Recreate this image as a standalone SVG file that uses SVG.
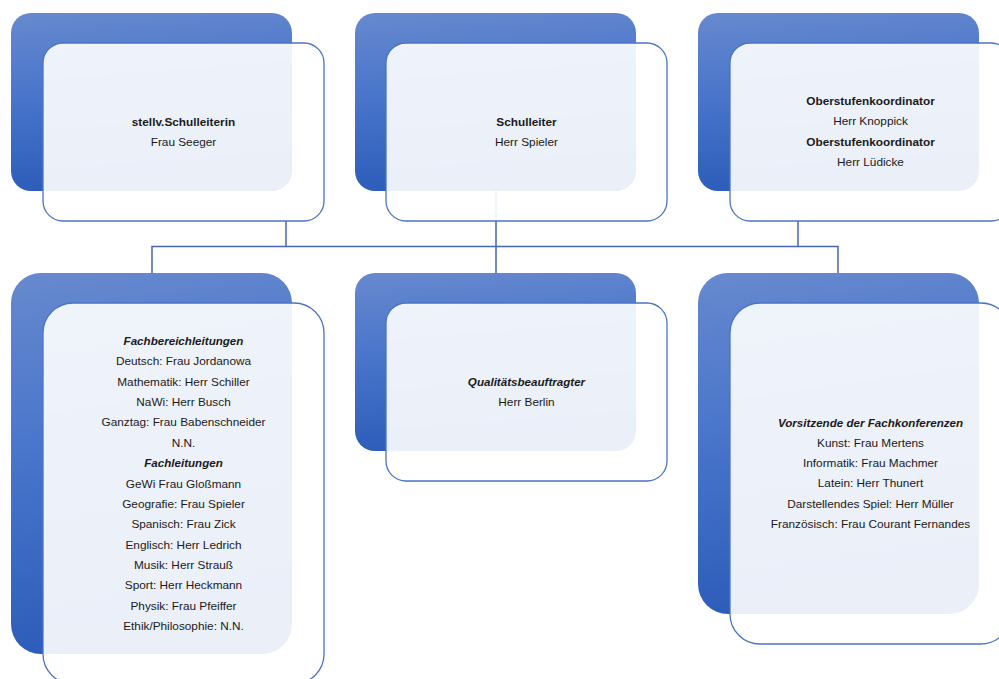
<svg xmlns="http://www.w3.org/2000/svg" width="999" height="679" viewBox="0 0 999 679">
<defs>
<linearGradient id="bg" x1="0" y1="0" x2="0.12" y2="1">
<stop offset="0" stop-color="#6789CE"/>
<stop offset="0.45" stop-color="#4A76CB"/>
<stop offset="1" stop-color="#2D5DBA"/>
</linearGradient>
<style>
.back{fill:url(#bg);}
.front{fill:#ffffff;fill-opacity:0.9;stroke:#4A74C4;stroke-width:1.3;}
.conn{fill:none;stroke:#4466AE;stroke-width:1.5;}
text{font-family:"Liberation Sans",Arial,sans-serif;font-size:11.8px;fill:#1a1a1a;text-anchor:middle;}
.b{font-weight:bold;}
.bi{font-weight:bold;font-style:italic;font-size:11.6px;}
</style>
</defs>
<rect width="999" height="679" fill="#ffffff"/>
<g id="connectors">
<line class="conn" x1="286" y1="221" x2="286" y2="246.5"/>
<line class="conn" x1="496" y1="191" x2="496" y2="273"/>
<line class="conn" x1="798" y1="221" x2="798" y2="246.5"/>
<polyline class="conn" points="152,273 152,246.5 838,246.5 838,273"/>
</g>
<g id="node-stellv">
<rect class="back" x="11" y="13" width="281" height="178" rx="20" ry="20"/>
<rect class="front" x="43" y="43" width="281" height="178" rx="20" ry="20"/>
<text x="183.5" y="126" class="b">stellv.Schulleiterin</text>
<text x="183.5" y="146">Frau Seeger</text>
</g>
<g id="node-schulleiter">
<rect class="back" x="355" y="13" width="281" height="178" rx="20" ry="20"/>
<rect class="front" x="386" y="43" width="281" height="178" rx="20" ry="20"/>
<text x="526.5" y="126" class="b">Schulleiter</text>
<text x="526.5" y="146">Herr Spieler</text>
</g>
<g id="node-oberstufe">
<rect class="back" x="698" y="13" width="281" height="178" rx="20" ry="20"/>
<rect class="front" x="730" y="43" width="281" height="178" rx="20" ry="20"/>
<text x="870.5" y="105" class="b">Oberstufenkoordinator</text>
<text x="870.5" y="125">Herr Knoppick</text>
<text x="870.5" y="146" class="b">Oberstufenkoordinator</text>
<text x="870.5" y="166">Herr Lüdicke</text>
</g>
<g id="node-fachbereich">
<rect class="back" x="11" y="273" width="281" height="381" rx="30" ry="30"/>
<rect class="front" x="43" y="303" width="281" height="381" rx="30" ry="30"/>
<text x="183.5" y="345" class="bi">Fachbereichleitungen</text>
<text x="183.5" y="365.4">Deutsch: Frau Jordanowa</text>
<text x="183.5" y="385.7">Mathematik: Herr Schiller</text>
<text x="183.5" y="406.1">NaWi: Herr Busch</text>
<text x="183.5" y="426.4">Ganztag: Frau Babenschneider</text>
<text x="183.5" y="446.8">N.N.</text>
<text x="183.5" y="467.1" class="bi">Fachleitungen</text>
<text x="183.5" y="487.5">GeWi Frau Gloßmann</text>
<text x="183.5" y="507.9">Geografie: Frau Spieler</text>
<text x="183.5" y="528.2">Spanisch: Frau Zick</text>
<text x="183.5" y="548.6">Englisch: Herr Ledrich</text>
<text x="183.5" y="568.9">Musik: Herr Strauß</text>
<text x="183.5" y="589.3">Sport: Herr Heckmann</text>
<text x="183.5" y="609.6">Physik: Frau Pfeiffer</text>
<text x="183.5" y="630">Ethik/Philosophie: N.N.</text>
</g>
<g id="node-qualitaet">
<rect class="back" x="355" y="273" width="281" height="178" rx="20" ry="20"/>
<rect class="front" x="386" y="303" width="281" height="178" rx="20" ry="20"/>
<text x="526.5" y="386" class="bi">Qualitätsbeauftragter</text>
<text x="526.5" y="406">Herr Berlin</text>
</g>
<g id="node-fachkonferenzen">
<rect class="back" x="698" y="273" width="281" height="341" rx="30" ry="30"/>
<rect class="front" x="730" y="303" width="281" height="341" rx="30" ry="30"/>
<text x="870.5" y="427" class="bi">Vorsitzende der Fachkonferenzen</text>
<text x="870.5" y="447">Kunst: Frau Mertens</text>
<text x="870.5" y="467">Informatik: Frau Machmer</text>
<text x="870.5" y="487">Latein: Herr Thunert</text>
<text x="870.5" y="507.5">Darstellendes Spiel: Herr Müller</text>
<text x="870.5" y="527.5">Französisch: Frau Courant Fernandes</text>
</g>
</svg>
